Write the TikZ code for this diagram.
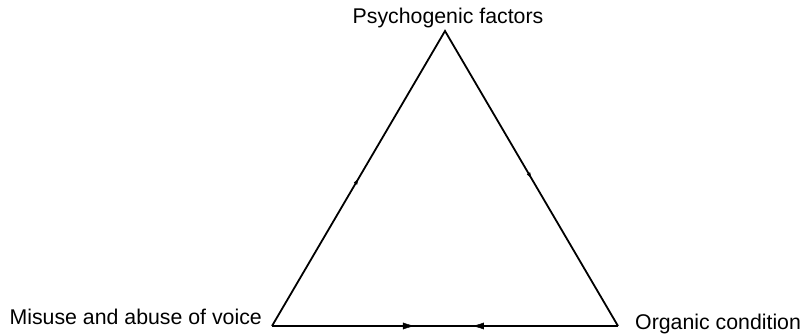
\documentclass[tikz,border=0pt]{standalone}
\usepackage{fontspec}
\setmainfont{Liberation Sans}
\usetikzlibrary{decorations.markings,arrows.meta}
\tikzset{
  lbl/.style={font=\fontsize{21.3}{24}\selectfont, inner sep=0pt, anchor=base},
  edge/.style={line width=1.8pt},
  bigtip/.style={-{Latex[length=12pt,width=7pt]}},
}
\begin{document}
\begin{tikzpicture}[x=1pt,y=-1pt]
\useasboundingbox (0,0) rectangle (800,336);
\coordinate (A) at (445,31);
\coordinate (L) at (272,326);
\coordinate (R) at (618,326);
\node[lbl] (pf) at (448,24) {Psychogenic factors};
\node[lbl,anchor=base east] (mv) at (262,325) {Misuse and abuse of voice};
\node[lbl,anchor=base west] (oc) at (635,330) {Organic condition};
\draw[edge, line join=miter] (L) -- (A) -- (R);
\draw[edge] (L) -- (R);
\path[decoration={markings,
  mark=at position 0.5 with {\arrow{Latex[length=6pt,width=4pt]}}},postaction={decorate}] (L) -- (A);
\path[decoration={markings,
  mark=at position 0.5 with {\arrow{Latex[length=6pt,width=4pt]}}},postaction={decorate}] (A) -- (R);
\path[decoration={markings,
  mark=at position 0.413 with {\arrow{Latex[length=12pt,width=7pt]}},
  mark=at position 0.578 with {\arrowreversed{Latex[length=12pt,width=7pt]}}},postaction={decorate}] (L) -- (R);
\end{tikzpicture}
\end{document}
